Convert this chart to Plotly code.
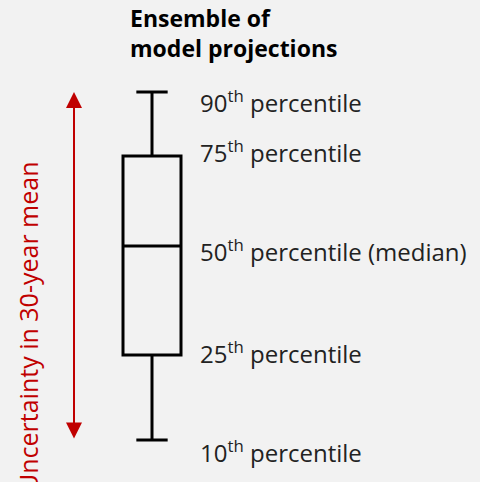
import plotly.graph_objects as go

# Schematic percentile values (arbitrary units)
percentile_names = ["90", "75", "50", "25", "10"]
percentile_values = [3.90, 3.26, 2.36, 1.27, 0.42]
label_suffix = [" percentile", " percentile", " percentile (median)", " percentile", " percentile"]
label_yshift = [-9, 5, -4, 3, -11]

p90, p75, p50, p25, p10 = percentile_values

FONT = "Open Sans"
BG = "#f2f2f2"
RED = "#c00000"

fig = go.Figure()
fig.add_trace(go.Box(
    x=[152], q1=[p25], median=[p50], q3=[p75],
    lowerfence=[p10], upperfence=[p90],
    width=58, whiskerwidth=0.54,
    line=dict(color="black", width=3),
    fillcolor="rgba(0,0,0,0)",
    boxpoints=False, hoverinfo="skip", showlegend=False,
))

# labels
for name, val, suf, ys in zip(percentile_names, percentile_values, label_suffix, label_yshift):
    fig.add_annotation(
        x=198, y=val, xref="x", yref="y", xanchor="left", yanchor="middle",
        text=f"{name}<sup>th</sup>{suf}", showarrow=False, yshift=ys,
        font=dict(family=FONT, size=24, color="#222222"),
    )

# double-headed red arrow spanning the 10th-90th range
fig.add_annotation(
    x=74, y=p90, ax=74, ay=p10, xref="x", yref="y", axref="x", ayref="y",
    text="", showarrow=True, arrowhead=2, arrowside="end+start",
    arrowsize=1.6, arrowwidth=2, arrowcolor=RED, standoff=0, startstandoff=0,
)

fig.add_annotation(
    x=28, y=1.55, xref="x", yref="y", xanchor="center", yanchor="middle",
    text="Uncertainty in 30-year mean", textangle=-90, showarrow=False,
    font=dict(family=FONT, size=25, color=RED),
)

fig.add_annotation(
    x=128, y=1, xref="x", yref="paper", xanchor="left", yanchor="top",
    text="<b>Ensemble of<br>model projections</b>", align="left", showarrow=False,
    font=dict(family=FONT, size=23, color="#000000"),
)

fig.update_layout(
    width=480, height=482,
    margin=dict(l=0, r=0, t=0, b=0),
    paper_bgcolor=BG, plot_bgcolor=BG,
    xaxis=dict(range=[0, 480], visible=False, fixedrange=True),
    yaxis=dict(range=[0, 4.82], visible=False, fixedrange=True),
)

fig.write_html(
    "out.html",
    config={"displayModeBar": False},
    post_script="document.body.style.margin='0';document.body.style.background='#f2f2f2';",
)
